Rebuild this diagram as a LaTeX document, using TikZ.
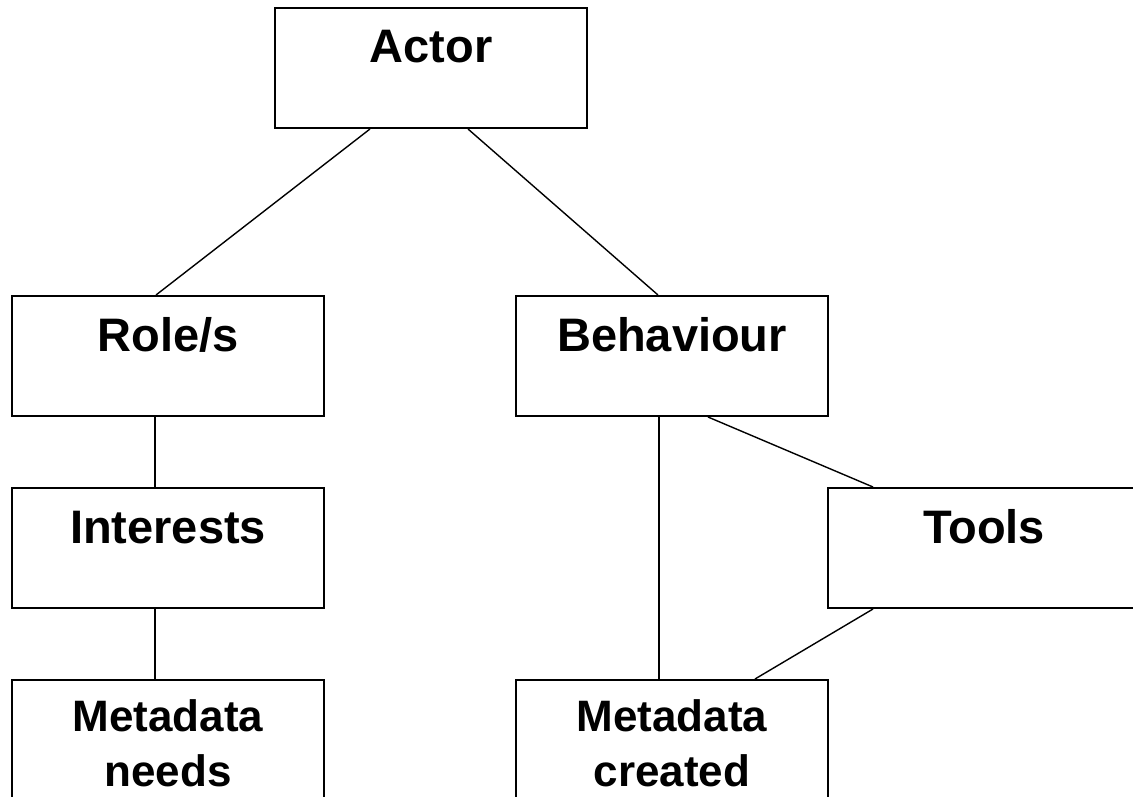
\documentclass[tikz,border=0pt]{standalone}
\usepackage{fontspec}
\setmainfont{Liberation Sans}
\usetikzlibrary{positioning}

\begin{document}
\begin{tikzpicture}[x=1pt, y=-1pt,
    box/.style={draw, line width=2pt, rectangle, anchor=north west,
      minimum width=312pt, inner sep=0pt, align=center,
      font=\bfseries\fontsize{47}{55}\selectfont,
      text height=55pt, text depth=65pt},
    metabox/.style={box, font=\bfseries\fontsize{44}{55}\selectfont,
      text height=106pt, text depth=14pt},
    link/.style={line width=1.4pt}]
  \useasboundingbox (0,0) rectangle (1133,797);
  \node[box] (actor) at (274,7) {Actor};
  \node[box] (roles) at (11,295) {Role/s};
  \node[box] (behaviour) at (515,295) {Behaviour};
  \node[box] (interests) at (11,487) {Interests};
  \node[box] (tools) at (827,487) {Tools};
  \node[metabox] (needs) at (11,679) {Metadata\\needs};
  \node[metabox] (created) at (515,679) {Metadata\\created};

  \draw[link] ([xshift=96]actor.south west) -- ([xshift=145]roles.north west);
  \draw[link] ([xshift=194]actor.south west) -- ([xshift=143]behaviour.north west);
  \draw[link] ([xshift=144]roles.south west) -- ([xshift=144]interests.north west);
  \draw[link] ([xshift=144]interests.south west) -- ([xshift=144]needs.north west);
  \draw[link] ([xshift=144]behaviour.south west) -- ([xshift=144]created.north west);
  \draw[link] ([xshift=193]behaviour.south west) -- ([xshift=46]tools.north west);
  \draw[link] ([xshift=46]tools.south west) -- ([xshift=240]created.north west);
\end{tikzpicture}
\end{document}
